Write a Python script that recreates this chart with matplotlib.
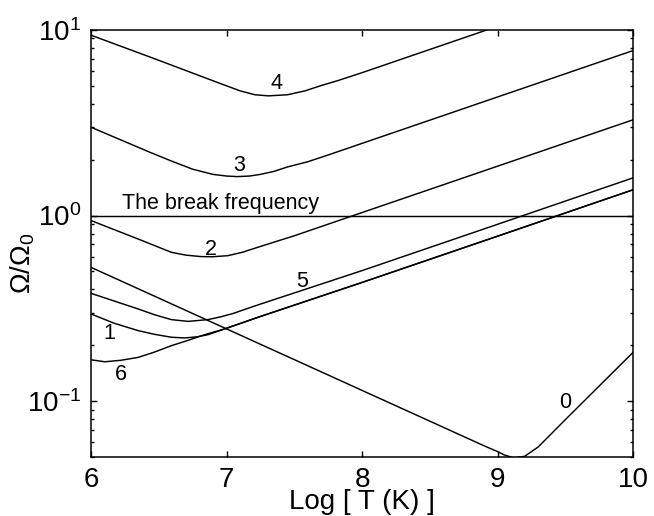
import matplotlib
matplotlib.use("Agg")
import matplotlib.pyplot as plt
from matplotlib.ticker import LogLocator, NullFormatter, FixedLocator

plt.rcParams['font.family'] = ['Liberation Sans', 'DejaVu Sans']
plt.rcParams['mathtext.fontset'] = 'custom'
plt.rcParams['mathtext.rm'] = 'Liberation Sans'
plt.rcParams['mathtext.it'] = 'Liberation Sans:italic'
plt.rcParams['mathtext.bf'] = 'Liberation Sans:bold'

# ---- data ----
x0 = [6.0, 8.9, 9.0, 9.05, 9.12, 9.2, 9.3, 9.5, 10.0]
y0 = [0.526, 0.0575, 0.0535, 0.0513, 0.0495, 0.0504, 0.0566, 0.0794, 0.183]

x1 = [6.0, 6.17, 6.347, 6.47, 6.593, 6.69, 6.78, 6.863, 6.986, 7.232, 8.0, 9.0, 10.0]
y1 = [0.295, 0.263, 0.240, 0.229, 0.221, 0.219, 0.222, 0.228, 0.245, 0.283, 0.436, 0.774, 1.377]

x2 = [6.0, 6.347, 6.593, 6.7, 6.814, 6.9, 7.01, 7.12, 7.232, 7.35, 7.5, 8.0, 9.0, 10.0]
y2 = [0.940, 0.748, 0.634, 0.612, 0.601, 0.600, 0.608, 0.635, 0.675, 0.719, 0.778, 1.038, 1.845, 3.281]

x3 = [6.0, 6.435, 6.6, 6.75, 6.9, 7.0, 7.08, 7.17, 7.25, 7.35, 7.45, 7.6, 7.76, 8.0, 9.0, 10.0]
y3 = [2.992, 2.193, 1.959, 1.778, 1.667, 1.633, 1.622, 1.633, 1.667, 1.730, 1.828, 1.950, 2.133, 2.449, 4.355, 7.745]

x4 = [6.0, 6.47, 6.96, 7.1, 7.21, 7.31, 7.45, 7.58, 7.70, 7.82, 8.0, 8.92, 10.0]
y4 = [9.376, 6.998, 5.129, 4.70, 4.477, 4.416, 4.477, 4.70, 5.023, 5.333, 5.888, 10.0, 18.62]

x5 = [6.0, 6.347, 6.47, 6.593, 6.716, 6.863, 6.96, 7.05, 7.14, 7.232, 8.0, 9.0, 10.0]
y5 = [0.381, 0.314, 0.292, 0.275, 0.269, 0.275, 0.285, 0.297, 0.313, 0.330, 0.505, 0.897, 1.596]

x6 = [6.0, 6.102, 6.22, 6.347, 6.47, 6.593, 6.72, 6.838, 6.986, 7.232, 8.0, 9.0, 10.0]
y6 = [0.167, 0.163, 0.166, 0.172, 0.184, 0.199, 0.213, 0.228, 0.245, 0.283, 0.436, 0.774, 1.377]

break_freq = 1.0

curve_labels = ['0', '1', '2', '3', '4', '5', '6']
label_x = [9.50, 6.133, 6.888, 7.092, 7.37, 7.56, 6.221]
label_y = [0.0915, 0.216, 0.614, 1.73, 4.78, 0.411, 0.130]

break_text = 'The break frequency'
break_text_x = 6.227
break_text_y = 1.087

xticks = [6, 7, 8, 9, 10]

# ---- figure ----
fig = plt.figure(figsize=(6.54, 5.16), dpi=100)
ax = fig.add_axes([91/654, 1-457/516, (633-91)/654, (457-30)/516])

lw = 1.05
for xs, ys in [(x0, y0), (x1, y1), (x2, y2), (x3, y3), (x4, y4), (x5, y5), (x6, y6)]:
    ax.plot(xs, ys, color='black', lw=lw, solid_joinstyle='round')
ax.axhline(break_freq, color='black', lw=lw)

for t, lx, ly in zip(curve_labels, label_x, label_y):
    ax.text(lx, ly, t, ha='center', va='baseline', fontsize=15.5)
ax.text(break_text_x, break_text_y, break_text, ha='left', va='baseline', fontsize=15.5)

ax.set_yscale('log')
ax.set_xlim(6, 10)
ax.set_ylim(0.05, 10)
ax.xaxis.set_major_locator(FixedLocator(xticks))
ax.yaxis.set_major_locator(LogLocator(base=10))
ax.yaxis.set_minor_locator(LogLocator(base=10, subs=range(2, 10)))
ax.yaxis.set_minor_formatter(NullFormatter())

ax.tick_params(which='both', direction='in', top=True, right=True, width=1.0)
ax.tick_params(which='major', length=4.5, labelsize=20, pad=7)
ax.tick_params(which='minor', length=2.5)
for s in ax.spines.values():
    s.set_linewidth(1.1)

ax.set_xlabel('Log [ T (K) ]', fontsize=20, va='baseline')
ax.xaxis.set_label_coords(0.5, -(509-457)/427)
ax.set_ylabel(r'$\mathdefault{\Omega/\Omega_0}$', fontsize=20)
ax.yaxis.set_label_coords(-(91-37)/542, (457-263)/427)

fig.savefig('out.png', dpi=100)
